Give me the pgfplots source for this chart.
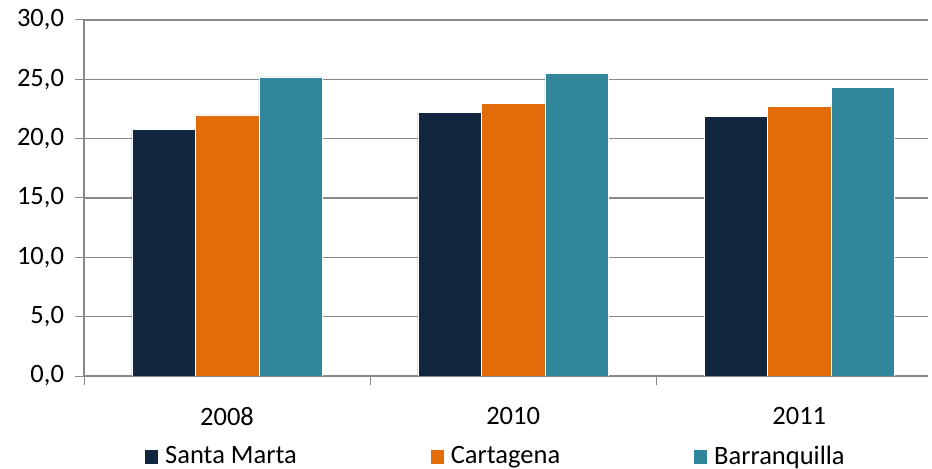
\documentclass[border=0pt]{standalone}
\usepackage{pgfplots}
\pgfplotsset{compat=1.18}
\usepackage{fontspec}
\setmainfont{Carlito}
\definecolor{smblue}{HTML}{12263F}
\definecolor{ctorange}{HTML}{E36C0A}
\definecolor{bqteal}{HTML}{31869B}
\definecolor{gridgray}{HTML}{898989}
\newcommand{\chartfont}{\fontsize{26.5bp}{31bp}\selectfont}

\begin{document}
\chartfont
\begin{tikzpicture}
\useasboundingbox (0,0) rectangle (932bp,469bp);
\begin{axis}[
  at={(84bp,93bp)}, anchor=south west,
  scale only axis, width=844bp, height=356bp,
  ybar=0pt, bar width=63.5bp,
  xmin=-0.5, xmax=2.45, ymin=0, ymax=30,
  ytick={0,5,...,30},
  xtick={0,1,2}, xticklabels={2008,2010,2011},
  major x tick style={draw=none},
  extra x ticks={-0.5,0.5,1.5},
  extra x tick labels={},
  extra x tick style={major x tick style={draw=gridgray, line width=1bp}, grid=none},
  axis x line*=bottom, axis y line*=left,
  axis line style={gridgray, line width=1.2bp, -},
  ymajorgrids, grid style={gridgray, line width=1.2bp},
  tick align=outside, major tick length=9bp,
  tick style={gridgray, line width=1bp},
  /pgf/number format/.cd, fixed, fixed zerofill, precision=1, use comma, assume math mode=true,
  /pgfplots/.cd,
  tick label style={font=\chartfont, black},
  yticklabel style={xshift=-2bp},
  xticklabel style={yshift=-13bp},
  legend columns=3,
  legend style={
    at={(0.0723,-0.2275)}, anchor=west,
    draw=none, fill=none, inner sep=0pt,
    font=\chartfont,
    /tikz/every even column/.append style={column sep=134bp},
    nodes={inner sep=0pt, anchor=west},
  },
  legend image code/.code={\path[#1, draw=none] (0bp,-7bp) rectangle (13bp,7bp);},
  every axis plot/.append style={draw=white, line width=0.6bp},
]
\addplot[fill=smblue] coordinates {(0,20.8) (1,22.2) (2,21.9)};
\addplot[fill=ctorange] coordinates {(0,22.0) (1,23.0) (2,22.7)};
\addplot[fill=bqteal] coordinates {(0,25.2) (1,25.5) (2,24.3)};
\legend{\hspace{7bp}Santa Marta, \hspace{7bp}Cartagena, \hspace{7bp}Barranquilla}
\end{axis}
\end{tikzpicture}
\end{document}
